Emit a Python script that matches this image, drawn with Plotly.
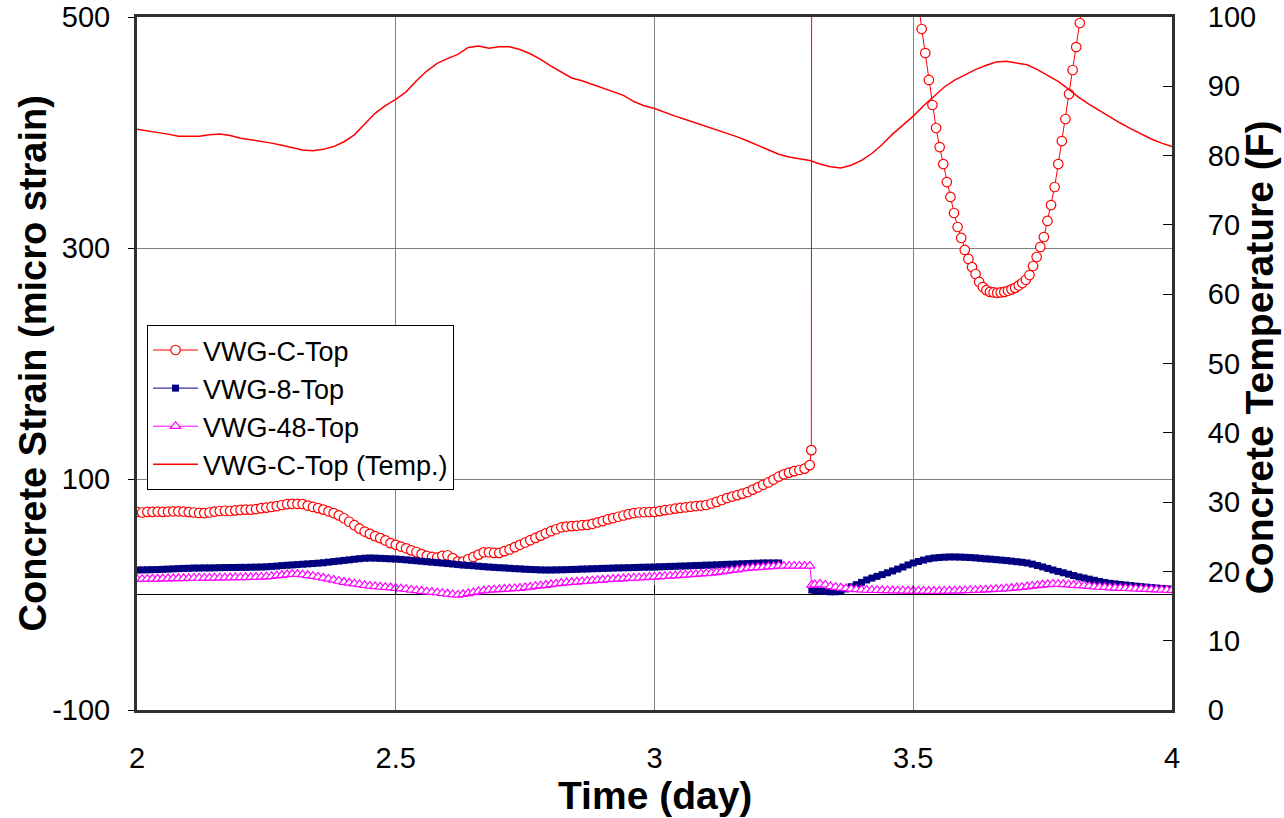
import numpy as np
import plotly.graph_objects as go

# ---------------- data ----------------
# VWG-C-Top strain, 2.00 .. 3.30 day, every 0.01 day
c_top_main = [
    71.5, 71.0, 71.5, 71.5, 71.8, 71.5, 71.8, 72.0, 72.0, 71.8,
    71.3, 71.0, 70.6, 70.5, 71.0, 71.8, 72.3, 72.5, 72.3, 72.8,
    73.2, 73.5, 73.5, 74.0, 74.8, 75.2, 75.8, 76.5, 77.5, 78.2,
    78.5, 78.5, 78.3, 77.0, 75.8, 74.8, 73.5, 72.0, 70.5, 68.5,
    66.0, 63.0, 60.0, 57.0, 54.5, 52.5, 50.5, 48.8, 46.8, 44.5,
    43.0, 41.5, 40.0, 38.2, 36.8, 35.0, 33.5, 32.5, 32.0, 33.5,
    34.0, 31.5, 28.5, 28.5, 30.5, 32.5, 34.5, 36.5, 36.5, 36.0,
    36.0, 37.5, 39.0, 41.0, 43.0, 45.0, 47.0, 49.0, 51.0, 53.0,
    54.8, 56.5, 58.2, 58.8, 59.2, 59.5, 60.0, 60.3, 61.2, 62.5,
    63.6, 65.0, 66.2, 67.3, 68.4, 69.6, 70.5, 71.0, 71.2, 71.4,
    71.5, 72.2, 73.0, 73.6, 74.3, 75.0, 75.5, 76.0, 76.6, 77.0,
    77.5, 78.8, 80.2, 81.8, 83.5, 84.8, 86.0, 87.3, 88.7, 90.8,
    92.8, 95.0, 97.0, 99.5, 102.0, 104.0, 105.5, 106.8, 107.8, 109.0,
    112.0,
]
# jump (off scale between 3.31 and 3.51 day)
c_top_jump_time = [3.303, 3.306, 3.5094]
c_top_jump = [125, 2000, 515]
# dip back into range, every 10 min from 3.5163 day
c_top_dip = [
    489.6, 468.8, 445.5, 423.8, 403.9, 387.4, 372.7, 357.1, 344.2, 330.3,
    318.2, 308.7, 298.3, 290.5, 283.5, 277.5, 270.6, 266.2,
    263.5, 262.0, 261.5, 261.2, 261.5, 262.0, 263.0, 264.2, 265.5, 267.5,
    269.7, 272.5,
    276.6, 284.4, 292.2, 300.9, 309.5, 323.4, 337.2, 352.8, 372.7, 392.6,
    411.7, 433.3, 454.1, 474.0, 494.8,
]
c_top_end_time = [3.8288, 3.8357]
c_top_end = [516, 540]

# VWG-8-Top, 2.00 .. 3.24 day every 0.01, then 3.304, then 3.31 .. 4.00
g8_a = [
    21.2, 21.3, 21.4, 21.5, 21.6, 21.8, 22.0, 22.2, 22.4, 22.6,
    22.7, 22.9, 22.9, 23.0, 23.0, 23.1, 23.2, 23.3, 23.4, 23.4,
    23.5, 23.5, 23.6, 23.7, 23.8, 24.0, 24.3, 24.6, 25.0, 25.3,
    25.6, 25.9, 26.2, 26.5, 26.8, 27.1, 27.5, 28.0, 28.5, 29.0,
    29.5, 30.0, 30.5, 31.0, 31.4, 31.6, 31.5, 31.3, 31.1, 30.9,
    30.7, 30.4, 30.0, 29.6, 29.2, 28.8, 28.4, 28.0, 27.6, 27.2,
    26.8, 26.4, 25.9, 25.5, 25.2, 24.9, 24.5, 24.1, 23.8, 23.5,
    23.2, 23.0, 22.7, 22.4, 22.2, 21.9, 21.7, 21.5, 21.3, 21.2,
    21.2, 21.3, 21.4, 21.5, 21.7, 21.8, 22.0, 22.1, 22.3, 22.4,
    22.6, 22.7, 22.9, 23.0, 23.1, 23.2, 23.4, 23.5, 23.6, 23.7,
    23.8, 24.0, 24.1, 24.3, 24.4, 24.6, 24.7, 24.9, 25.1, 25.2,
    25.4, 25.5, 25.7, 25.9, 26.1, 26.2, 26.4, 26.6, 26.8, 27.0,
    27.1, 27.3, 27.3, 27.3, 27.3,
]
g8_jump = 3.9
g8_b = [
    3.5, 3.0, 2.6, 2.3, 2.4, 3.2, 4.8, 6.7, 8.5,
    10.5, 12.6, 14.2, 15.7, 17.2, 18.8, 20.4, 22.0, 23.8, 25.6,
    27.3, 28.6, 29.8, 30.9, 31.6, 32.0, 32.3, 32.5, 32.5, 32.4,
    32.2, 32.0, 31.7, 31.3, 30.9, 30.6, 30.2, 29.8, 29.4, 28.9,
    28.4, 27.9, 27.3, 26.3, 25.1, 23.9, 22.6, 21.2, 20.0, 18.8,
    17.6, 16.4, 15.2, 14.3, 13.3, 12.3, 11.3, 10.4, 9.7, 9.2,
    8.7, 8.2, 7.7, 7.2, 6.8, 6.4, 6.0, 5.6, 5.2, 4.8,
    4.5,
]

# VWG-48-Top, 2.00 .. 3.30 every 0.01, then 3.304, then 3.31 .. 4.00
g48_a = [
    13.4, 13.3, 13.5, 13.6, 13.6, 13.8, 13.8, 13.9, 14.0, 14.0,
    14.1, 14.3, 14.3, 14.4, 14.4, 14.5, 14.6, 14.6, 14.7, 14.8,
    14.8, 14.9, 15.0, 15.1, 15.2, 15.4, 15.8, 16.3, 16.8, 17.3,
    17.7, 17.7, 17.2, 16.6, 15.9, 15.2, 14.4, 13.5, 12.6, 11.7,
    10.8, 10.1, 9.4, 8.7, 8.0, 7.4, 7.0, 6.7, 6.3, 6.0,
    5.6, 5.1, 4.6, 4.0, 3.5, 3.0, 2.5, 2.1, 1.6, 1.1,
    0.6, 0.1, -0.4, 0.2, 1.0, 1.8, 2.6, 3.4, 3.9, 4.2,
    4.4, 4.7, 5.0, 5.3, 5.6, 6.1, 6.6, 7.2, 7.7, 8.2,
    8.8, 9.3, 9.9, 10.3, 10.6, 11.0, 11.3, 11.7, 12.0, 12.4,
    12.7, 13.1, 13.4, 13.6, 13.8, 14.1, 14.3, 14.5, 14.7, 15.0,
    15.2, 15.5, 15.8, 16.1, 16.4, 16.7, 17.0, 17.3, 17.6, 18.0,
    18.3, 18.6, 19.2, 19.8, 20.4, 21.0, 21.6, 22.3, 22.9, 23.2,
    23.5, 23.8, 24.1, 24.4, 24.7, 24.7, 24.7, 24.7, 24.7, 24.7,
    24.7,
]
g48_jump = 8.2
g48_b = [
    8.6, 9.1, 8.3, 7.0, 6.3, 5.8, 5.3, 4.8, 4.4,
    4.1, 3.9, 3.8, 3.7, 3.6, 3.5, 3.4, 3.3, 3.3, 3.2,
    3.2, 3.1, 3.1, 3.0, 3.0, 3.0, 3.1, 3.2, 3.3, 3.4,
    3.5, 3.7, 3.8, 4.0, 4.2, 4.4, 4.6, 4.8, 5.2, 5.6,
    6.0, 6.4, 6.9, 7.4, 7.9, 8.4, 8.8, 9.1, 9.0, 8.8,
    8.5, 8.2, 7.9, 7.6, 7.2, 6.8, 6.5, 6.3, 6.0, 5.8,
    5.6, 5.4, 5.2, 5.0, 4.8, 4.7, 4.5, 4.3, 4.1, 3.9,
    3.8,
]

# VWG-C-Top temperature (F), 2.00 .. 4.00 every 0.02 day
temp_f = [
    83.8, 83.6, 83.4, 83.1, 82.8, 82.8, 82.8, 83.0, 83.1, 82.9,
    82.5, 82.3, 82.1, 81.8, 81.5, 81.1, 80.8, 80.7, 80.9, 81.3,
    82.0, 83.0, 84.6, 86.1, 87.2, 88.1, 89.2, 90.8, 92.2, 93.3,
    94.0, 94.6, 95.6, 95.8, 95.5, 95.7, 95.7, 95.3, 94.7, 93.9,
    92.9, 92.0, 91.2, 90.8, 90.3, 89.7, 89.2, 88.7, 87.8, 87.2,
    86.8, 86.2, 85.7, 85.2, 84.7, 84.3, 83.8, 83.3, 82.7, 82.1,
    81.5, 80.9, 80.2, 79.8, 79.6, 79.3, 78.8, 78.4, 78.2, 78.6,
    79.3, 80.3, 81.6, 83.1, 84.4, 85.7, 87.2, 88.6, 89.9, 90.9,
    91.7, 92.4, 93.0, 93.5, 93.6, 93.4, 93.1, 92.4, 91.6, 90.7,
    89.6, 88.4, 87.4, 86.5, 85.5, 84.7, 83.9, 83.1, 82.4, 81.8,
    81.3,
]

x_ticks = [2, 2.5, 3, 3.5, 4]
x_tick_text = ["2", "2.5", "3", "3.5", "4"]
y_ticks = [-100, 100, 300, 500]
y_tick_text = ["-100", "100", "300", "500"]
y2_ticks = [0, 10, 20, 30, 40, 50, 60, 70, 80, 90, 100]

# ---------------- time grids ----------------
def grid(start, step, n):
    return list(np.round(start + step * np.arange(n), 4))

t_c_main = grid(2.00, 0.01, len(c_top_main))
t_c_dip = grid(3.5163, 1 / 144, len(c_top_dip))
c_x = t_c_main + c_top_jump_time + t_c_dip + c_top_end_time
c_y = c_top_main + c_top_jump + c_top_dip + c_top_end

g8_x = grid(2.00, 0.01, len(g8_a)) + [3.27] + [3.304] + grid(3.31, 0.01, len(g8_b))
g8_y = g8_a + [None] + [g8_jump] + g8_b

g48_x = grid(2.00, 0.01, len(g48_a)) + [3.304] + grid(3.31, 0.01, len(g48_b))
g48_y = g48_a + [g48_jump] + g48_b

t_temp = grid(2.00, 0.02, len(temp_f))

# ---------------- figure ----------------
FONT = "Liberation Sans, Arial, sans-serif"
TICK_FONT = dict(family=FONT, size=29, color="black")
fig = go.Figure()

fig.add_trace(go.Scatter(
    x=c_x, y=c_y, name="VWG-C-Top", mode="lines+markers",
    line=dict(color="#FF0000", width=1),
    marker=dict(symbol="circle", size=9.5, color="white",
                line=dict(color="#FF0000", width=1.2)),
))
fig.add_trace(go.Scatter(
    x=g8_x, y=g8_y, name="VWG-8-Top", mode="lines+markers",
    line=dict(color="#000080", width=1),
    marker=dict(symbol="square", size=7, color="#000080",
                line=dict(color="#000080", width=0)),
    connectgaps=False,
))
fig.add_trace(go.Scatter(
    x=g48_x, y=g48_y, name="VWG-48-Top", mode="lines+markers",
    line=dict(color="#FF00FF", width=1),
    marker=dict(symbol="triangle-up", size=9, color="white",
                line=dict(color="#FF00FF", width=1.2)),
))
fig.add_trace(go.Scatter(
    x=t_temp, y=temp_f, name="VWG-C-Top (Temp.)", mode="lines",
    line=dict(color="#FF0000", width=1.5), yaxis="y2",
))

# small tick marks where the category axis crosses zero strain
for xv in x_ticks[1:-1]:
    fig.add_shape(type="line", xref="x", yref="y", x0=xv, x1=xv, y0=0, y1=8,
                  line=dict(color="black", width=1))

axis_line = "#303030"
fig.update_layout(
    width=1284, height=818,
    margin=dict(l=137, r=112, t=17, b=108, autoexpand=False),
    paper_bgcolor="white", plot_bgcolor="white",
    font=dict(family=FONT, color="black"),
    showlegend=True,
    legend=dict(
        x=0.0097, y=0.5556, xanchor="left", yanchor="top",
        bgcolor="white", bordercolor="black", borderwidth=1,
        font=dict(family=FONT, size=27, color="black"),
        tracegroupgap=0, itemwidth=45,
    ),
    xaxis=dict(
        range=[2, 4], tickvals=x_ticks, ticktext=x_tick_text,
        showgrid=True, gridcolor="#808080", gridwidth=1,
        showline=True, linecolor=axis_line, linewidth=3, mirror=True,
        ticks="", zeroline=False, automargin=False,
        tickfont=TICK_FONT, ticklabelstandoff=20,
        ticklabeloverflow="allow",
    ),
    yaxis=dict(
        range=[-100, 500], tickvals=y_ticks, ticktext=y_tick_text,
        showgrid=True, gridcolor="#808080", gridwidth=1,
        showline=True, linecolor=axis_line, linewidth=3, mirror=True,
        ticks="outside", ticklen=6, tickcolor="black",
        zeroline=True, zerolinecolor="black", zerolinewidth=1,
        automargin=False,
        tickfont=TICK_FONT, ticklabelstandoff=12,
        ticklabeloverflow="allow",
    ),
    yaxis2=dict(
        range=[0, 100], tickvals=y2_ticks, overlaying="y", side="right",
        showgrid=False, zeroline=False, automargin=False,
        showline=True, linecolor=axis_line, linewidth=3,
        ticks="inside", ticklen=9, tickcolor="black",
        tickfont=TICK_FONT, ticklabelstandoff=27,
        ticklabeloverflow="allow",
    ),
    annotations=[
        dict(text="Concrete Strain (micro strain)", xref="paper", yref="paper",
             x=-0.1005, y=0.5, xanchor="center", yanchor="middle",
             textangle=-90, showarrow=False,
             font=dict(family=FONT, size=38, color="black", weight="bold")),
        dict(text="Concrete Temperature (F)", xref="paper", yref="paper",
             x=1.0841, y=0.509, xanchor="center", yanchor="middle",
             textangle=-90, showarrow=False,
             font=dict(family=FONT, size=39, color="black", weight="bold")),
        dict(text="Time (day)", xref="paper", yref="paper",
             x=0.5, y=-0.1227, xanchor="center", yanchor="middle",
             showarrow=False,
             font=dict(family=FONT, size=39, color="black", weight="bold")),
    ],
)

fig.write_html(
    "out.html",
    config={"displayModeBar": False},
    post_script="document.body.style.margin='0';document.body.style.overflow='hidden';",
)
